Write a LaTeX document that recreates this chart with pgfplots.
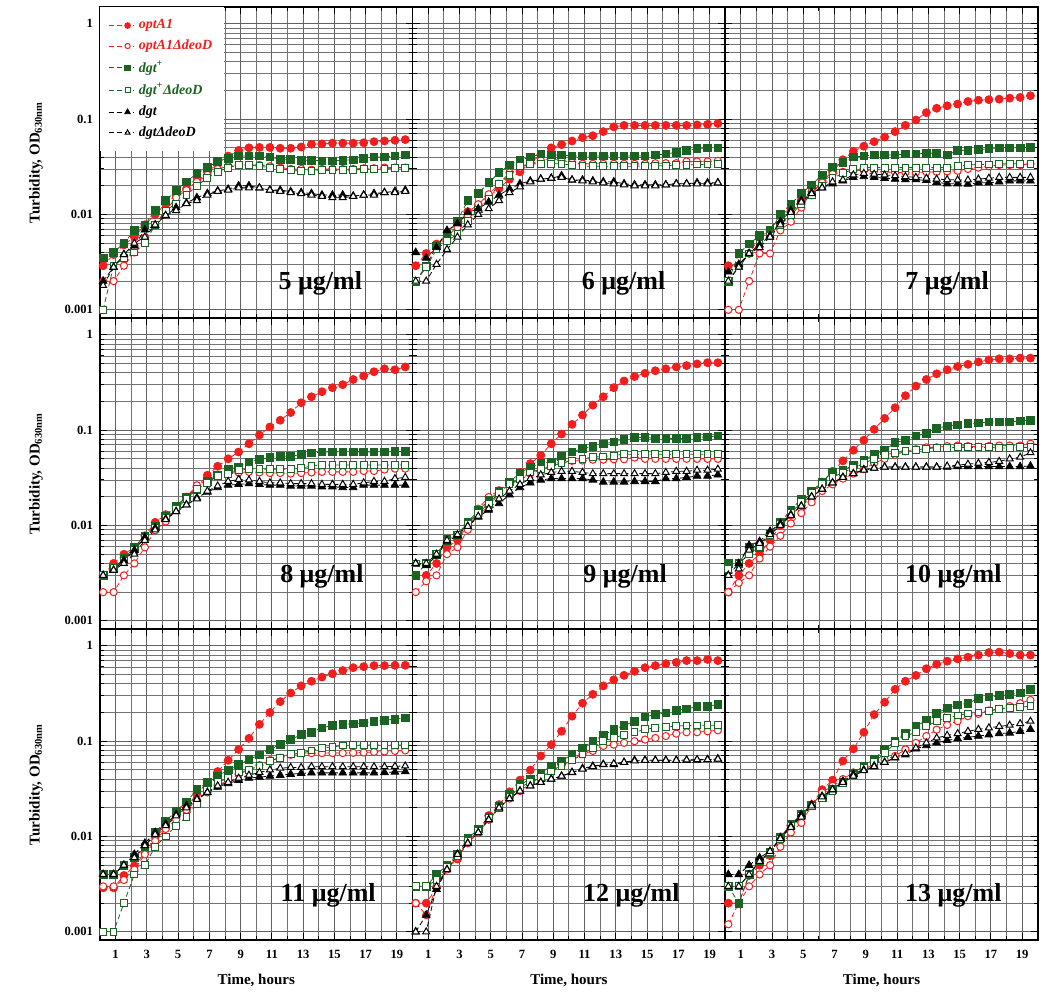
\documentclass[border=0pt]{standalone}
\usepackage{fontspec}
\setmainfont{Liberation Serif}
\usepackage{pgfplots}
\usepackage{pgfplotstable}
\pgfplotsset{compat=1.18}
\usepgfplotslibrary{groupplots}
\usetikzlibrary{calc}
\definecolor{cred}{HTML}{F21E1E}
\definecolor{cgreen}{HTML}{1B6322}

% columns: t, optA1, optA1/deoD, dgt+, dgt+/deoD, dgt, dgt/deoD
\pgfplotstableread{
t A B C D E F
0.2 0.0029 0.0020 0.0035 0.0010 0.0020 0.0018
0.87 0.0038 0.0020 0.0040 0.0029 0.0028 0.0028
1.53 0.0048 0.0029 0.0050 0.0035 0.0038 0.0038
2.2 0.0058 0.0040 0.0068 0.0040 0.0047 0.0050
2.87 0.0078 0.0057 0.0078 0.0050 0.0069 0.0058
3.53 0.0100 0.0078 0.0110 0.0078 0.0077 0.0078
4.2 0.0130 0.0110 0.0140 0.0110 0.0097 0.0098
4.87 0.0160 0.0150 0.0180 0.0130 0.0118 0.0110
5.53 0.0185 0.0180 0.0220 0.0160 0.0132 0.0130
6.2 0.0220 0.0220 0.0270 0.0200 0.0150 0.0140
6.87 0.0280 0.0260 0.0310 0.0240 0.0166 0.0160
7.53 0.0340 0.0300 0.0360 0.0280 0.0177 0.0175
8.2 0.0410 0.0320 0.0390 0.0310 0.0184 0.0180
8.87 0.0470 0.0330 0.0410 0.0330 0.0200 0.0190
9.53 0.0500 0.0330 0.0410 0.0330 0.0200 0.0190
10.2 0.0505 0.0330 0.0410 0.0320 0.0190 0.0190
10.87 0.0505 0.0320 0.0400 0.0310 0.0180 0.0180
11.53 0.0495 0.0310 0.0380 0.0300 0.0180 0.0175
12.2 0.0495 0.0300 0.0380 0.0290 0.0174 0.0170
12.87 0.0510 0.0300 0.0370 0.0285 0.0170 0.0165
13.53 0.0545 0.0295 0.0370 0.0285 0.0166 0.0160
14.2 0.0550 0.0300 0.0365 0.0290 0.0160 0.0155
14.87 0.0560 0.0300 0.0365 0.0290 0.0160 0.0150
15.53 0.0560 0.0300 0.0370 0.0290 0.0160 0.0150
16.2 0.0560 0.0300 0.0375 0.0290 0.0156 0.0155
16.87 0.0565 0.0305 0.0385 0.0300 0.0160 0.0160
17.53 0.0580 0.0305 0.0400 0.0300 0.0166 0.0160
18.2 0.0590 0.0310 0.0400 0.0300 0.0170 0.0170
18.87 0.0600 0.0310 0.0410 0.0310 0.0175 0.0170
19.53 0.0610 0.0310 0.0420 0.0310 0.0180 0.0175
}\tabV
\pgfplotstableread{
t A B C D E F
0.2 0.0029 0.0020 0.0020 0.0020 0.0040 0.0020
0.87 0.0039 0.0028 0.0029 0.0028 0.0035 0.0020
1.53 0.0049 0.0047 0.0047 0.0043 0.0045 0.0030
2.2 0.0057 0.0055 0.0062 0.0053 0.0068 0.0043
2.87 0.0077 0.0073 0.0086 0.0062 0.0080 0.0058
3.53 0.0107 0.0098 0.0140 0.0086 0.0105 0.0078
4.2 0.0126 0.0128 0.0166 0.0113 0.0115 0.0100
4.87 0.0154 0.0163 0.0216 0.0145 0.0135 0.0115
5.53 0.0188 0.0210 0.0275 0.0210 0.0160 0.0140
6.2 0.0234 0.0275 0.0330 0.0260 0.0185 0.0170
6.87 0.0280 0.0310 0.0370 0.0320 0.0210 0.0195
7.53 0.0350 0.0340 0.0400 0.0340 0.0225 0.0220
8.2 0.0420 0.0370 0.0430 0.0340 0.0235 0.0235
8.87 0.0500 0.0380 0.0420 0.0340 0.0240 0.0240
9.53 0.0540 0.0370 0.0420 0.0340 0.0255 0.0245
10.2 0.0590 0.0350 0.0410 0.0330 0.0230 0.0230
10.87 0.0640 0.0340 0.0410 0.0320 0.0230 0.0225
11.53 0.0670 0.0340 0.0410 0.0320 0.0225 0.0220
12.2 0.0740 0.0340 0.0410 0.0320 0.0220 0.0215
12.87 0.0830 0.0340 0.0410 0.0320 0.0220 0.0210
13.53 0.0860 0.0340 0.0410 0.0320 0.0210 0.0205
14.2 0.0860 0.0340 0.0410 0.0320 0.0205 0.0200
14.87 0.0860 0.0340 0.0410 0.0325 0.0205 0.0200
15.53 0.0860 0.0345 0.0420 0.0325 0.0205 0.0200
16.2 0.0860 0.0345 0.0430 0.0325 0.0205 0.0205
16.87 0.0860 0.0345 0.0450 0.0330 0.0210 0.0210
17.53 0.0860 0.0360 0.0470 0.0330 0.0210 0.0210
18.2 0.0870 0.0360 0.0490 0.0335 0.0215 0.0210
18.87 0.0880 0.0360 0.0500 0.0335 0.0215 0.0210
19.53 0.0900 0.0365 0.0500 0.0340 0.0215 0.0215
}\tabVI
\pgfplotstableread{
t A B C D E F
0.2 0.0029 0.0010 0.0020 0.0020 0.0025 0.0020
0.87 0.0029 0.0010 0.0039 0.0029 0.0030 0.0028
1.53 0.0039 0.0020 0.0049 0.0039 0.0039 0.0039
2.2 0.0058 0.0039 0.0060 0.0049 0.0048 0.0045
2.87 0.0068 0.0039 0.0069 0.0060 0.0060 0.0058
3.53 0.0098 0.0068 0.0100 0.0078 0.0084 0.0078
4.2 0.0116 0.0084 0.0128 0.0098 0.0110 0.0105
4.87 0.0142 0.0118 0.0166 0.0130 0.0140 0.0135
5.53 0.0160 0.0174 0.0205 0.0160 0.0170 0.0165
6.2 0.0225 0.0216 0.0260 0.0200 0.0190 0.0190
6.87 0.0280 0.0265 0.0315 0.0240 0.0210 0.0220
7.53 0.0375 0.0280 0.0350 0.0270 0.0225 0.0230
8.2 0.0460 0.0290 0.0400 0.0300 0.0245 0.0260
8.87 0.0520 0.0290 0.0410 0.0310 0.0250 0.0270
9.53 0.0580 0.0287 0.0420 0.0310 0.0245 0.0265
10.2 0.0650 0.0280 0.0420 0.0310 0.0240 0.0260
10.87 0.0740 0.0276 0.0420 0.0310 0.0235 0.0255
11.53 0.0860 0.0276 0.0430 0.0310 0.0232 0.0250
12.2 0.0980 0.0276 0.0430 0.0310 0.0232 0.0245
12.87 0.1170 0.0278 0.0440 0.0310 0.0228 0.0240
13.53 0.1300 0.0280 0.0440 0.0310 0.0218 0.0235
14.2 0.1380 0.0283 0.0420 0.0310 0.0210 0.0232
14.87 0.1440 0.0287 0.0470 0.0320 0.0210 0.0230
15.53 0.1530 0.0300 0.0470 0.0330 0.0208 0.0230
16.2 0.1580 0.0310 0.0480 0.0335 0.0215 0.0235
16.87 0.1600 0.0320 0.0490 0.0335 0.0215 0.0240
17.53 0.1620 0.0330 0.0500 0.0340 0.0220 0.0245
18.2 0.1660 0.0330 0.0500 0.0340 0.0225 0.0245
18.87 0.1690 0.0330 0.0500 0.0340 0.0225 0.0245
19.53 0.1760 0.0340 0.0505 0.0340 0.0225 0.0245
}\tabVII
\pgfplotstableread{
t A B C D E F
0.2 0.0030 0.0020 0.0030 0.0030 0.0030 0.0030
0.87 0.0040 0.0020 0.0036 0.0036 0.0034 0.0034
1.53 0.0050 0.0030 0.0045 0.0043 0.0043 0.0040
2.2 0.0059 0.0040 0.0059 0.0055 0.0055 0.0050
2.87 0.0078 0.0059 0.0078 0.0075 0.0075 0.0070
3.53 0.0108 0.0089 0.0098 0.0094 0.0094 0.0090
4.2 0.0130 0.0110 0.0125 0.0120 0.0117 0.0115
4.87 0.0158 0.0156 0.0160 0.0148 0.0140 0.0140
5.53 0.0194 0.0200 0.0200 0.0190 0.0165 0.0165
6.2 0.0253 0.0264 0.0240 0.0240 0.0195 0.0190
6.87 0.0336 0.0298 0.0290 0.0280 0.0225 0.0230
7.53 0.0418 0.0330 0.0340 0.0330 0.0250 0.0260
8.2 0.0500 0.0350 0.0390 0.0350 0.0265 0.0290
8.87 0.0590 0.0360 0.0410 0.0380 0.0270 0.0305
9.53 0.0720 0.0365 0.0464 0.0390 0.0275 0.0300
10.2 0.0890 0.0360 0.0490 0.0390 0.0270 0.0290
10.87 0.1080 0.0355 0.0520 0.0390 0.0265 0.0280
11.53 0.1270 0.0355 0.0533 0.0390 0.0265 0.0280
12.2 0.1530 0.0350 0.0533 0.0390 0.0260 0.0275
12.87 0.1940 0.0355 0.0555 0.0400 0.0260 0.0275
13.53 0.2240 0.0360 0.0577 0.0420 0.0260 0.0275
14.2 0.2530 0.0365 0.0590 0.0430 0.0255 0.0270
14.87 0.2790 0.0365 0.0590 0.0430 0.0255 0.0270
15.53 0.3000 0.0365 0.0590 0.0430 0.0250 0.0270
16.2 0.3400 0.0365 0.0590 0.0430 0.0250 0.0270
16.87 0.3700 0.0373 0.0590 0.0430 0.0265 0.0280
17.53 0.4100 0.0373 0.0590 0.0430 0.0265 0.0290
18.2 0.4400 0.0386 0.0590 0.0430 0.0265 0.0290
18.87 0.4300 0.0395 0.0595 0.0430 0.0265 0.0310
19.53 0.4600 0.0395 0.0600 0.0430 0.0265 0.0320
}\tabVIII
\pgfplotstableread{
t A B C D E F
0.2 0.0030 0.0020 0.0030 0.0040 0.0040 0.0040
0.87 0.0030 0.0026 0.0040 0.0040 0.0038 0.0040
1.53 0.0040 0.0030 0.0050 0.0050 0.0048 0.0050
2.2 0.0059 0.0050 0.0072 0.0068 0.0068 0.0070
2.87 0.0070 0.0059 0.0080 0.0080 0.0078 0.0080
3.53 0.0100 0.0090 0.0108 0.0105 0.0098 0.0098
4.2 0.0128 0.0150 0.0144 0.0135 0.0123 0.0125
4.87 0.0160 0.0199 0.0183 0.0170 0.0145 0.0150
5.53 0.0216 0.0234 0.0230 0.0220 0.0170 0.0190
6.2 0.0280 0.0275 0.0286 0.0270 0.0210 0.0230
6.87 0.0360 0.0298 0.0355 0.0310 0.0250 0.0270
7.53 0.0446 0.0350 0.0410 0.0360 0.0280 0.0310
8.2 0.0545 0.0380 0.0446 0.0390 0.0300 0.0340
8.87 0.0720 0.0428 0.0465 0.0420 0.0310 0.0360
9.53 0.0910 0.0457 0.0530 0.0450 0.0310 0.0370
10.2 0.1150 0.0476 0.0590 0.0480 0.0310 0.0370
10.87 0.1440 0.0480 0.0640 0.0500 0.0310 0.0360
11.53 0.1830 0.0490 0.0680 0.0520 0.0300 0.0350
12.2 0.2240 0.0490 0.0720 0.0530 0.0286 0.0350
12.87 0.2790 0.0495 0.0750 0.0540 0.0286 0.0350
13.53 0.3280 0.0495 0.0800 0.0560 0.0286 0.0350
14.2 0.3650 0.0516 0.0840 0.0560 0.0290 0.0350
14.87 0.3950 0.0500 0.0840 0.0560 0.0290 0.0350
15.53 0.4200 0.0500 0.0820 0.0560 0.0290 0.0350
16.2 0.4400 0.0500 0.0820 0.0560 0.0310 0.0360
16.87 0.4600 0.0500 0.0820 0.0560 0.0310 0.0370
17.53 0.4750 0.0500 0.0820 0.0560 0.0320 0.0370
18.2 0.4950 0.0500 0.0840 0.0560 0.0330 0.0380
18.87 0.5100 0.0500 0.0850 0.0560 0.0330 0.0380
19.53 0.5100 0.0500 0.0870 0.0560 0.0340 0.0390
}\tabIX
\pgfplotstableread{
t A B C D E F
0.2 0.0020 0.0020 0.0040 0.0035 0.0030 0.0030
0.87 0.0030 0.0025 0.0040 0.0040 0.0040 0.0035
1.53 0.0040 0.0030 0.0059 0.0050 0.0062 0.0055
2.2 0.0050 0.0045 0.0059 0.0060 0.0068 0.0065
2.87 0.0070 0.0060 0.0082 0.0080 0.0087 0.0080
3.53 0.0100 0.0078 0.0108 0.0105 0.0105 0.0100
4.2 0.0128 0.0105 0.0146 0.0135 0.0130 0.0128
4.87 0.0162 0.0135 0.0190 0.0175 0.0160 0.0160
5.53 0.0216 0.0175 0.0230 0.0220 0.0200 0.0200
6.2 0.0286 0.0230 0.0286 0.0270 0.0240 0.0240
6.87 0.0370 0.0270 0.0365 0.0320 0.0280 0.0280
7.53 0.0476 0.0310 0.0380 0.0360 0.0320 0.0320
8.2 0.0616 0.0350 0.0430 0.0400 0.0350 0.0350
8.87 0.0785 0.0390 0.0480 0.0450 0.0386 0.0380
9.53 0.1020 0.0450 0.0560 0.0500 0.0400 0.0400
10.2 0.1330 0.0500 0.0616 0.0550 0.0410 0.0410
10.87 0.1720 0.0550 0.0740 0.0580 0.0410 0.0410
11.53 0.2300 0.0600 0.0785 0.0600 0.0410 0.0410
12.2 0.2900 0.0630 0.0870 0.0620 0.0410 0.0410
12.87 0.3400 0.0660 0.0920 0.0640 0.0410 0.0410
13.53 0.3900 0.0660 0.1040 0.0650 0.0410 0.0410
14.2 0.4300 0.0680 0.1110 0.0650 0.0410 0.0420
14.87 0.4650 0.0690 0.1130 0.0660 0.0415 0.0430
15.53 0.4900 0.0680 0.1170 0.0660 0.0415 0.0440
16.2 0.5200 0.0670 0.1190 0.0660 0.0415 0.0450
16.87 0.5450 0.0680 0.1220 0.0660 0.0415 0.0460
17.53 0.5600 0.0690 0.1220 0.0650 0.0415 0.0470
18.2 0.5600 0.0690 0.1220 0.0650 0.0415 0.0500
18.87 0.5700 0.0690 0.1250 0.0660 0.0415 0.0520
19.53 0.5700 0.0720 0.1270 0.0660 0.0420 0.0580
}\tabX
\pgfplotstableread{
t A B C D E F
0.2 0.0029 0.0030 0.0040 0.0010 0.0040 0.0040
0.87 0.0029 0.0030 0.0040 0.0010 0.0040 0.0040
1.53 0.0039 0.0035 0.0050 0.0020 0.0050 0.0050
2.2 0.0049 0.0045 0.0060 0.0040 0.0065 0.0060
2.87 0.0068 0.0065 0.0078 0.0050 0.0085 0.0080
3.53 0.0099 0.0090 0.0110 0.0078 0.0110 0.0105
4.2 0.0125 0.0120 0.0145 0.0100 0.0135 0.0130
4.87 0.0166 0.0150 0.0185 0.0130 0.0170 0.0165
5.53 0.0200 0.0190 0.0230 0.0160 0.0210 0.0200
6.2 0.0283 0.0240 0.0310 0.0220 0.0250 0.0245
6.87 0.0365 0.0290 0.0370 0.0310 0.0290 0.0290
7.53 0.0480 0.0340 0.0430 0.0370 0.0330 0.0340
8.2 0.0630 0.0390 0.0500 0.0410 0.0360 0.0370
8.87 0.0820 0.0450 0.0570 0.0470 0.0390 0.0410
9.53 0.1070 0.0500 0.0640 0.0500 0.0410 0.0440
10.2 0.1500 0.0560 0.0720 0.0550 0.0420 0.0470
10.87 0.2000 0.0630 0.0820 0.0620 0.0430 0.0500
11.53 0.2600 0.0670 0.0920 0.0670 0.0440 0.0520
12.2 0.3200 0.0720 0.1040 0.0730 0.0450 0.0530
12.87 0.3800 0.0750 0.1170 0.0750 0.0460 0.0530
13.53 0.4250 0.0750 0.1240 0.0800 0.0465 0.0540
14.2 0.4700 0.0750 0.1380 0.0850 0.0465 0.0540
14.87 0.5100 0.0750 0.1460 0.0870 0.0465 0.0540
15.53 0.5500 0.0750 0.1500 0.0900 0.0465 0.0540
16.2 0.5900 0.0755 0.1520 0.0910 0.0465 0.0540
16.87 0.6050 0.0760 0.1560 0.0910 0.0465 0.0540
17.53 0.6200 0.0770 0.1620 0.0910 0.0465 0.0540
18.2 0.6200 0.0780 0.1660 0.0910 0.0470 0.0540
18.87 0.6250 0.0790 0.1700 0.0910 0.0475 0.0545
19.53 0.6250 0.0800 0.1750 0.0910 0.0480 0.0550
}\tabXI
\pgfplotstableread{
t A B C D E F
0.2 0.0020 0.0020 0.0030 0.0030 0.0010 0.0010
0.87 0.0020 0.0015 0.0030 0.0030 0.0015 0.0010
1.53 0.0029 0.0030 0.0040 0.0035 0.0028 0.0030
2.2 0.0049 0.0045 0.0050 0.0048 0.0045 0.0045
2.87 0.0058 0.0060 0.0065 0.0062 0.0065 0.0065
3.53 0.0090 0.0085 0.0095 0.0090 0.0085 0.0085
4.2 0.0110 0.0110 0.0120 0.0115 0.0110 0.0110
4.87 0.0166 0.0150 0.0160 0.0155 0.0150 0.0150
5.53 0.0216 0.0200 0.0210 0.0200 0.0200 0.0200
6.2 0.0294 0.0250 0.0280 0.0260 0.0250 0.0250
6.87 0.0390 0.0300 0.0350 0.0330 0.0300 0.0300
7.53 0.0497 0.0360 0.0400 0.0370 0.0340 0.0340
8.2 0.0700 0.0420 0.0465 0.0420 0.0370 0.0370
8.87 0.0920 0.0490 0.0550 0.0480 0.0400 0.0400
9.53 0.1270 0.0560 0.0620 0.0550 0.0430 0.0430
10.2 0.1830 0.0640 0.0725 0.0630 0.0470 0.0470
10.87 0.2500 0.0730 0.0850 0.0725 0.0517 0.0510
11.53 0.3100 0.0790 0.1000 0.0850 0.0546 0.0540
12.2 0.3800 0.0890 0.1150 0.1000 0.0570 0.0570
12.87 0.4400 0.0920 0.1330 0.1080 0.0570 0.0580
13.53 0.4900 0.0960 0.1460 0.1170 0.0600 0.0600
14.2 0.5400 0.1000 0.1620 0.1240 0.0630 0.0620
14.87 0.5900 0.1040 0.1800 0.1330 0.0630 0.0630
15.53 0.6200 0.1080 0.1900 0.1380 0.0630 0.0630
16.2 0.6500 0.1130 0.1980 0.1410 0.0630 0.0630
16.87 0.6700 0.1200 0.2100 0.1440 0.0630 0.0630
17.53 0.7000 0.1240 0.2180 0.1460 0.0630 0.0635
18.2 0.7000 0.1240 0.2300 0.1460 0.0635 0.0640
18.87 0.7200 0.1270 0.2330 0.1470 0.0640 0.0640
19.53 0.7000 0.1300 0.2430 0.1470 0.0650 0.0650
}\tabXII
\pgfplotstableread{
t A B C D E F
0.2 0.0020 0.0012 0.0030 0.0030 0.0040 0.0030
0.87 0.0020 0.0020 0.0020 0.0030 0.0040 0.0030
1.53 0.0039 0.0030 0.0040 0.0040 0.0050 0.0040
2.2 0.0050 0.0040 0.0055 0.0055 0.0060 0.0055
2.87 0.0063 0.0050 0.0068 0.0068 0.0070 0.0070
3.53 0.0099 0.0078 0.0098 0.0095 0.0097 0.0095
4.2 0.0130 0.0110 0.0135 0.0130 0.0128 0.0125
4.87 0.0166 0.0139 0.0170 0.0165 0.0170 0.0160
5.53 0.0216 0.0210 0.0215 0.0210 0.0216 0.0210
6.2 0.0310 0.0290 0.0254 0.0250 0.0265 0.0260
6.87 0.0390 0.0340 0.0310 0.0300 0.0310 0.0310
7.53 0.0620 0.0400 0.0370 0.0360 0.0380 0.0370
8.2 0.0830 0.0470 0.0465 0.0440 0.0450 0.0430
8.87 0.1240 0.0510 0.0550 0.0520 0.0500 0.0490
9.53 0.1900 0.0570 0.0650 0.0600 0.0550 0.0540
10.2 0.2560 0.0640 0.0820 0.0750 0.0600 0.0600
10.87 0.3500 0.0700 0.1000 0.0950 0.0670 0.0670
11.53 0.4250 0.0820 0.1200 0.1130 0.0720 0.0740
12.2 0.4900 0.0960 0.1430 0.1240 0.0830 0.0850
12.87 0.5750 0.1130 0.1650 0.1430 0.0900 0.0960
13.53 0.6400 0.1320 0.1950 0.1620 0.0960 0.1080
14.2 0.6900 0.1480 0.2240 0.1760 0.1020 0.1150
14.87 0.7300 0.1620 0.2400 0.1860 0.1060 0.1200
15.53 0.7600 0.1830 0.2500 0.1950 0.1100 0.1270
16.2 0.8000 0.1930 0.2800 0.2000 0.1130 0.1330
16.87 0.8500 0.2100 0.2900 0.2060 0.1170 0.1380
17.53 0.8600 0.2180 0.3000 0.2180 0.1200 0.1430
18.2 0.8300 0.2330 0.3100 0.2240 0.1220 0.1470
18.87 0.8000 0.2500 0.3200 0.2270 0.1270 0.1530
19.53 0.8000 0.2700 0.3500 0.2330 0.1330 0.1620
}\tabXIII

\pgfplotsset{
  ser/.style={line width=0.4pt, dash pattern=on 2.5pt off 1.5pt},
  sA/.style={ser, cred, mark=*, mark size=2pt, mark options={solid, fill=cred, draw=cred}},
  sB/.style={ser, cred, mark=*, mark size=1.8pt, mark options={solid, fill=white, draw=cred, line width=0.5pt}},
  sC/.style={ser, cgreen, mark=square*, mark size=1.9pt, mark options={solid, fill=cgreen, draw=cgreen}},
  sD/.style={ser, cgreen, mark=square*, mark size=1.7pt, mark options={solid, fill=white, draw=cgreen, line width=0.5pt}},
  sE/.style={ser, black, mark=triangle*, mark size=2.2pt, mark options={solid, fill=black}},
  sF/.style={ser, black, mark=triangle*, mark size=2pt, mark options={solid, fill=white, draw=black, line width=0.5pt}},
}

\newcommand{\curves}[1]{%
  \addplot[sA] table[x=t, y=A] {#1};
  \addplot[sB] table[x=t, y=B] {#1};
  \addplot[sC] table[x=t, y=C] {#1};
  \addplot[sD] table[x=t, y=D] {#1};
  \addplot[sE] table[x=t, y=E] {#1};
  \addplot[sF] table[x=t, y=F] {#1};
}
\newcommand{\conc}[3]{\node[font=\bfseries\fontsize{13}{14}\selectfont] at (axis cs:#1,#2) {#3~μg/ml};}

\begin{document}
\begin{tikzpicture}
\begin{groupplot}[
  group style={group size=3 by 3, horizontal sep=0pt, vertical sep=0pt,
    group name=g, xticklabels at=edge bottom, yticklabels at=edge left},
  scale only axis, width=156.3pt, height=155.5pt,
  xmin=0, xmax=20, ymode=log, ymin=0.00082, ymax=1.5,
  xtick={1,3,...,19}, minor xtick={0,2,...,20},
  xticklabels={1,3,5,7,9,11,13,15,17,19},
  ytick={0.001,0.01,0.1,1}, yticklabels={0.001,0.01,0.1,1},
  grid=both,
  major grid style={black!62, line width=0.5pt},
  minor grid style={black!55, line width=0.45pt},
  axis line style={black, line width=0.7pt},
  tick style={black, line width=0.5pt},
  major tick length=3.5pt, minor tick length=2pt,
  tick label style={font=\bfseries\fontsize{6.3}{7}\selectfont},
  xticklabel style={yshift=-1.5pt},
  label style={font=\bfseries\fontsize{7.5}{9}\selectfont},
  ylabel shift=4pt, xlabel shift=1pt,
]
\nextgroupplot[ylabel={Turbidity, OD\textsubscript{630nm}},
  legend cell align=left,
  legend style={draw=none, fill=white, at={(0,1)}, anchor=north west,
    font=\bfseries\itshape\fontsize{7}{8}\selectfont,
    inner xsep=4pt, inner ysep=4pt, row sep=0pt,
    /tikz/every even column/.append style={column sep=1pt}},
  legend image code/.code={%
    \draw[#1] (0cm,0cm) -- (0.45cm,0cm);
    \draw[#1, /tikz/every mark/.append style={scale=0.72}, mark repeat=2, mark phase=2]
      plot coordinates {(0cm,0cm) (0.33cm,0cm) (0.45cm,0cm)};},
  legend entries={\textcolor{cred}{optA1}, \textcolor{cred}{optA1ΔdeoD},
    \textcolor{cgreen}{dgt\textsuperscript{+}}, \textcolor{cgreen}{dgt\textsuperscript{+}ΔdeoD},
    dgt, dgtΔdeoD}]
\curves{\tabV}
\conc{14.1}{0.0019}{5}
\nextgroupplot
\curves{\tabVI}
\conc{13.5}{0.0019}{6}
\nextgroupplot
\curves{\tabVII}
\conc{14.2}{0.0019}{7}
\nextgroupplot[ylabel={Turbidity, OD\textsubscript{630nm}}]
\curves{\tabVIII}
\conc{14.2}{0.0029}{8}
\nextgroupplot
\curves{\tabIX}
\conc{13.6}{0.0029}{9}
\nextgroupplot
\curves{\tabX}
\conc{14.6}{0.0029}{10}
\nextgroupplot[ylabel={Turbidity, OD\textsubscript{630nm}}, xlabel={Time, hours}]
\curves{\tabXI}
\conc{14.6}{0.0024}{11}
\nextgroupplot[xlabel={Time, hours}]
\curves{\tabXII}
\conc{14.0}{0.0024}{12}
\nextgroupplot[xlabel={Time, hours}]
\curves{\tabXIII}
\conc{14.6}{0.0024}{13}
\end{groupplot}
\pgfresetboundingbox
\path ($(g c1r1.north west)+(-50pt,3.5pt)$) rectangle ($(g c1r1.north west)+(475pt,-493pt)$);
\end{tikzpicture}
\end{document}
